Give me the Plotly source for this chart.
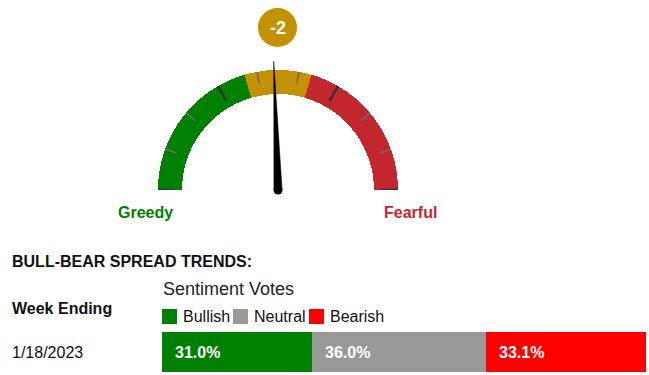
import numpy as np
import plotly.graph_objects as go

W, H = 649, 375

# ---------------- data ----------------
week_ending = ["1/18/2023"]
sentiment_labels = ["Bullish", "Neutral", "Bearish"]
sentiment_values = [31.0, 36.0, 33.1]
bar_colors = ["#008000", "#999999", "#FF0000"]

gauge_min, gauge_max = -100, 100
band_edges = [-100, -18, 18, 100]
band_colors = ["#008000", "#C49102", "#C4262E"]
gauge_end_labels = ["Greedy", "Fearful"]
n_tick_intervals = 9

spread = sentiment_values[0] - sentiment_values[2]

FONT = "Liberation Sans, Arial, sans-serif"


def px(x):
    return x / W


def py(y):
    return 1 - y / H


def theta(v):
    return (v - gauge_min) / (gauge_max - gauge_min) * 180.0


fig = go.Figure()

# ---------------- gauge bands ----------------
for lo, hi, c in zip(band_edges[:-1], band_edges[1:], band_colors):
    fig.add_trace(go.Barpolar(
        r=[0.2], base=[0.8], theta=[theta((lo + hi) / 2)], width=[theta(hi) - theta(lo)],
        marker=dict(color=c, line=dict(width=0)), subplot="polar",
        showlegend=False, hoverinfo="skip"))

# ---------------- gauge ticks ----------------
tick_vals = np.linspace(gauge_min, gauge_max, n_tick_intervals + 1)
lr, lt, dr, dt = [], [], [], []
for i, v in enumerate(tick_vals):
    if i % 3 == 0:
        dr += [0.858, 1.0, None]
        dt += [theta(v), theta(v), None]
    else:
        lr += [0.9, 1.0, None]
        lt += [theta(v), theta(v), None]
fig.add_trace(go.Scatterpolar(r=lr, theta=lt, mode="lines", line=dict(color="#6b6b6b", width=1.5),
                              subplot="polar", showlegend=False, hoverinfo="skip"))
fig.add_trace(go.Scatterpolar(r=dr, theta=dt, mode="lines", line=dict(color="#333333", width=2.5),
                              subplot="polar", showlegend=False, hoverinfo="skip"))

# ---------------- needle ----------------
tn = theta(spread)
w = 0.034
L = 1.075
fig.add_trace(go.Scatterpolar(r=[w, L, w, w], theta=[tn - 90, tn, tn + 90, tn - 90], mode="lines",
                              fill="toself", fillcolor="black", line=dict(color="black", width=0.5),
                              subplot="polar", showlegend=False, hoverinfo="skip"))
fig.add_trace(go.Scatterpolar(r=[0], theta=[0], mode="markers", marker=dict(size=9, color="black"),
                              cliponaxis=False, subplot="polar", showlegend=False, hoverinfo="skip"))

# ---------------- stacked bar ----------------
for lab, val, col in zip(sentiment_labels, sentiment_values, bar_colors):
    fig.add_trace(go.Bar(x=[val], y=week_ending, orientation="h", name=lab,
                         marker=dict(color=col, line=dict(width=0)), width=1,
                         showlegend=False, hoverinfo="skip"))

Rg = 1.08
R_px = 120 * Rg
cx, cy = 278, 190

annotations = []
starts = np.cumsum([0] + sentiment_values[:-1])
for s, val in zip(starts, sentiment_values):
    annotations.append(dict(x=s, y=0, xref="x", yref="y", text=f"<b>{val:.1f}%</b>", showarrow=False,
                            xanchor="left", yanchor="middle", xshift=11,
                            font=dict(family=FONT, size=16, color="white")))

# badge
annotations.append(dict(x=px(277.5), y=py(27.5), xref="paper", yref="paper", text=f"<b>{spread:.0f}</b>",
                        showarrow=False, xanchor="center", yanchor="middle",
                        font=dict(family=FONT, size=18, color="white")))
annotations.append(dict(x=px(145), y=py(212), xref="paper", yref="paper", text=f"<b>{gauge_end_labels[0]}</b>",
                        showarrow=False, xanchor="center", yanchor="middle",
                        font=dict(family=FONT, size=16, color=band_colors[0])))
annotations.append(dict(x=px(410.5), y=py(212), xref="paper", yref="paper", text=f"<b>{gauge_end_labels[1]}</b>",
                        showarrow=False, xanchor="center", yanchor="middle",
                        font=dict(family=FONT, size=16, color=band_colors[2])))
annotations.append(dict(x=px(10), y=py(261), xref="paper", yref="paper", text="<b>BULL-BEAR SPREAD TRENDS:</b>",
                        showarrow=False, xanchor="left", yanchor="middle",
                        font=dict(family=FONT, size=16, color="#111")))
annotations.append(dict(x=px(161), y=py(289), xref="paper", yref="paper", text="Sentiment Votes",
                        showarrow=False, xanchor="left", yanchor="middle",
                        font=dict(family=FONT, size=18, color="#222")))
annotations.append(dict(x=px(10), y=py(308), xref="paper", yref="paper", text="<b>Week Ending</b>",
                        showarrow=False, xanchor="left", yanchor="middle",
                        font=dict(family=FONT, size=16, color="#111")))
annotations.append(dict(x=px(10), y=py(352), xref="paper", yref="paper", text=week_ending[0],
                        showarrow=False, xanchor="left", yanchor="middle",
                        font=dict(family=FONT, size=16, color="#111")))

shapes = [dict(type="circle", xref="paper", yref="paper", x0=px(258), x1=px(297), y0=py(47), y1=py(8),
               fillcolor=band_colors[1], line=dict(width=0))]
leg_x = [162, 233, 309]
for lx, lab, col in zip(leg_x, sentiment_labels, bar_colors):
    shapes.append(dict(type="rect", xref="paper", yref="paper", x0=px(lx), x1=px(lx + 15),
                       y0=py(324), y1=py(309), fillcolor=col, line=dict(width=0)))
    annotations.append(dict(x=px(lx + 19), y=py(316), xref="paper", yref="paper", text=lab,
                            showarrow=False, xanchor="left", yanchor="middle",
                            font=dict(family=FONT, size=16, color="#111")))

fig.update_layout(
    width=W, height=H, autosize=False,
    margin=dict(l=0, r=0, t=0, b=0),
    paper_bgcolor="white", plot_bgcolor="rgba(0,0,0,0)",
    barmode="stack", bargap=0,
    polar=dict(
        domain=dict(x=[px(cx - R_px), px(cx + R_px)], y=[py(cy), py(cy - R_px)]),
        sector=[0, 180], hole=0, bgcolor="rgba(0,0,0,0)",
        radialaxis=dict(range=[0, Rg], visible=False),
        angularaxis=dict(rotation=180, direction="clockwise", visible=False),
    ),
    xaxis=dict(domain=[px(162), px(646)], range=[0, sum(sentiment_values)], visible=False, fixedrange=True),
    yaxis=dict(domain=[py(372), py(332)], range=[-0.5, 0.5], visible=False, fixedrange=True),
    annotations=annotations,
    shapes=shapes,
)

fig.write_html("out.html", config={"displayModeBar": False},
               post_script="document.body.style.margin='0';document.body.style.overflow='hidden';")
